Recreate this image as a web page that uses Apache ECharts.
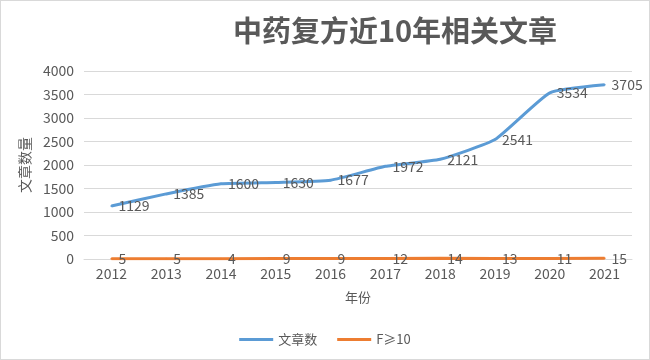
<!DOCTYPE html>
<html><head><meta charset="utf-8">
<script src="https://cdn.jsdelivr.net/npm/echarts@6/dist/echarts.min.js"></script>
<style>html,body{margin:0;padding:0;background:#fff}#c{width:648px;height:358px;border:1px solid #d9d9d9}</style>
</head><body><div id="c"></div>
<script>
const years = ['2012','2013','2014','2015','2016','2017','2018','2019','2020','2021'];
const articles = [1129,1385,1600,1630,1677,1972,2121,2541,3534,3705];
const fGe10 = [5,5,4,9,9,12,14,13,11,15];
const yTicks = {min:0, max:4000, interval:500};

const font = '"Noto Sans CJK SC", "Microsoft YaHei", sans-serif';
const chart = echarts.init(document.getElementById('c'));
chart.setOption({
  animation:false,
  textStyle:{fontFamily:font},
  title:{text:'中药复方近10年相关文章', left:389, textAlign:'center', top:10,
    textStyle:{fontSize:29, fontWeight:'bold', color:'#595959', fontFamily:font}},
  grid:{left:83, right:17, top:70, bottom:100},
  legend:{bottom:8, left:'center', itemWidth:34, itemHeight:3, itemGap:20,
    icon:'rect', textStyle:{color:'#595959', fontSize:13, fontFamily:font},
    data:['文章数','F≥10']},
  xAxis:{type:'category', data:years, boundaryGap:true,
    name:'年份', nameLocation:'middle', nameGap:32,
    nameTextStyle:{color:'#595959', fontSize:13, fontFamily:font},
    axisLine:{lineStyle:{color:'#d9d9d9'}}, axisTick:{show:false},
    axisLabel:{color:'#595959', fontSize:14, margin:8}},
  yAxis:{type:'value', min:yTicks.min, max:yTicks.max, interval:yTicks.interval,
    name:'文章数量', nameLocation:'middle', nameGap:50, nameRotate:90,
    nameTextStyle:{color:'#595959', fontSize:14, fontFamily:font},
    axisLine:{show:false}, axisTick:{show:false},
    splitLine:{lineStyle:{color:'#d9d9d9'}},
    axisLabel:{color:'#595959', fontSize:14, margin:10, formatter:v=>String(v)}},
  series:[
    {name:'文章数', type:'line', data:articles, symbol:'circle', symbolSize:2, showSymbol:true, smooth:0.15,
      lineStyle:{color:'#5B9BD5', width:3}, itemStyle:{color:'#5B9BD5'},
      label:{show:true, position:'right', distance:6, color:'#595959', fontSize:14}},
    {name:'F≥10', type:'line', data:fGe10, symbol:'circle', symbolSize:2, showSymbol:true,
      lineStyle:{color:'#ED7D31', width:3}, itemStyle:{color:'#ED7D31'},
      label:{show:true, position:'right', distance:6, color:'#595959', fontSize:14}}
  ]
});
</script></body></html>
